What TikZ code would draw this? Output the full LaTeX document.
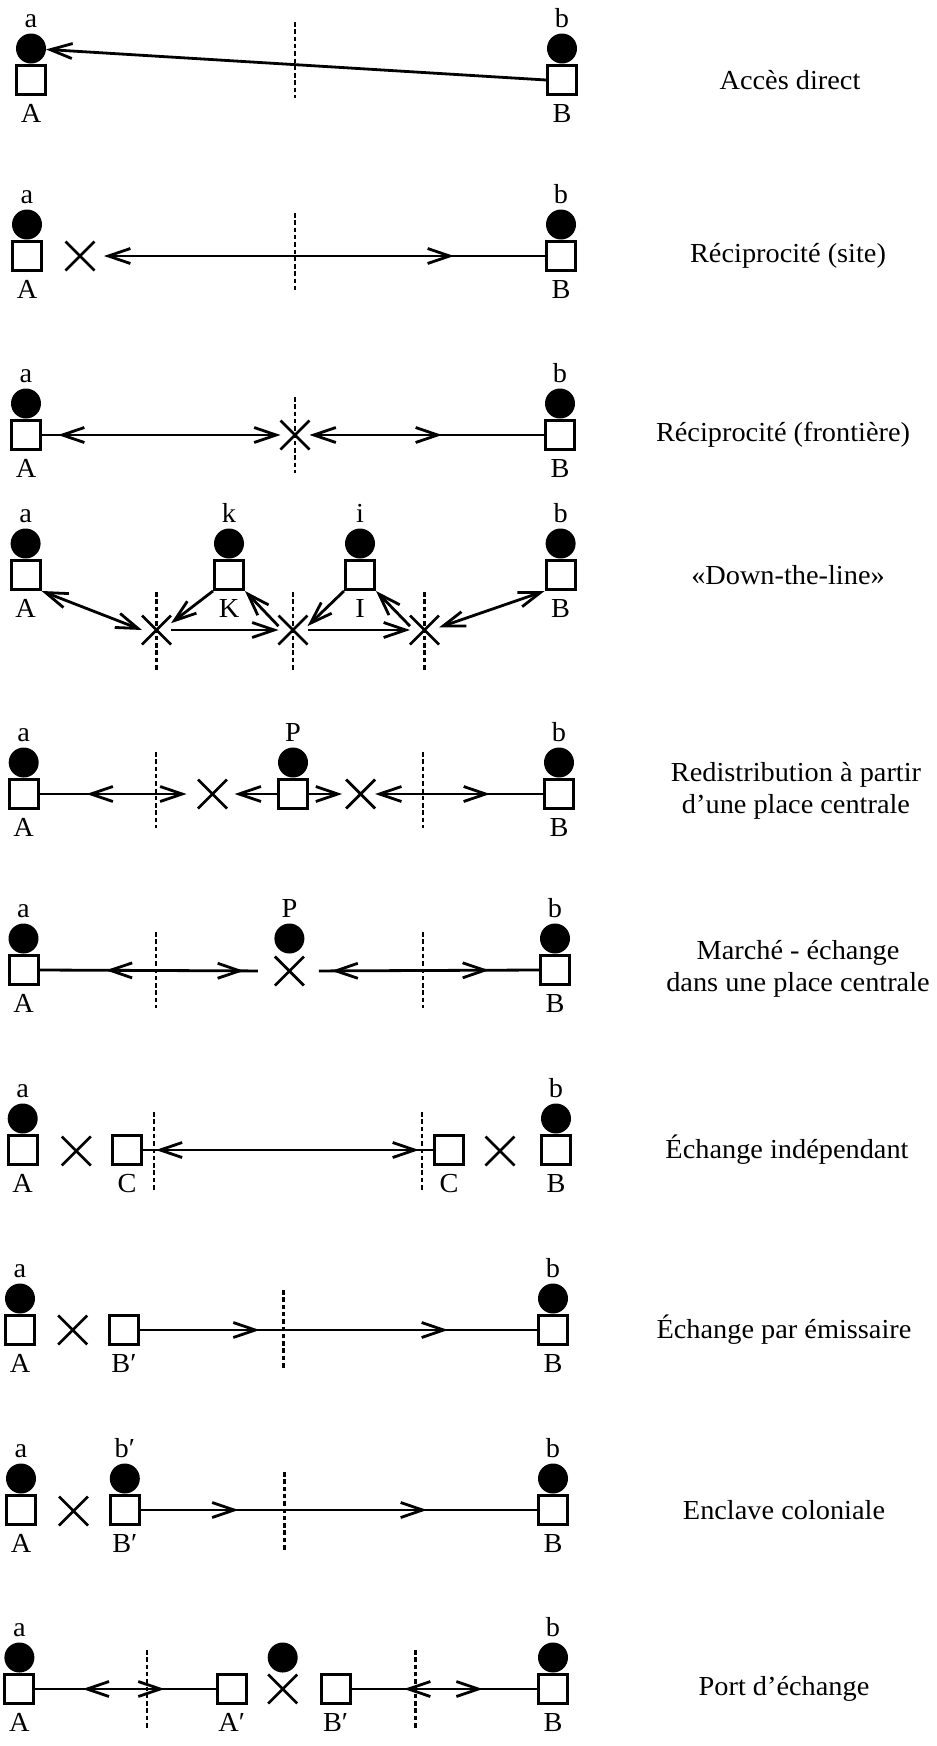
\documentclass[tikz,border=0pt]{standalone}
\usepackage{fontspec}
\setmainfont[FakeStretch=1.03]{Liberation Serif}
\usetikzlibrary{arrows.meta,shapes.misc,decorations.markings}
\tikzset{
  sq/.style={draw, line width=3pt, minimum size=29pt, inner sep=0pt},
  hd/.style={circle, fill=black, minimum size=30pt, inner sep=0pt, outer sep=0pt},
  xm/.style={cross out, draw, line width=2.7pt, minimum size=29pt, inner sep=0pt, outer sep=0pt},
  lab/.style={inner sep=0pt, font=\fontsize{27.5}{31}\selectfont},
  txt/.style={inner sep=0pt, align=center, font=\fontsize{27.5}{31.5}\selectfont},
  con/.style={line width=2.8pt},
  bord/.style={line width=2.4pt, dash pattern=on 4.5pt off 2.8pt},
  fwd/.style={postaction={decorate,decoration={markings,mark=at position #1 with {\arrow{>}}}}},
  bwd/.style={postaction={decorate,decoration={markings,mark=at position #1 with {\arrowreversed{>}}}}},
}
\newcommand\mkhouse[4]{\node[sq] (#1) at (#2,#3) {}; \node[lab,anchor=base] (#1l) at (#2,#3+42.5) {#4};}
\newcommand\mkhead[4]{\node[hd] (#1) at (#2,#3) {}; \node[lab,anchor=base] (#1l) at (#2,#3-21.5) {#4};}
\begin{document}
\begin{tikzpicture}[x=1pt,y=-1pt,>={Straight Barb[length=22pt,width=15pt]}]
\useasboundingbox (0,0) rectangle (937,1746);
% ---------- row 1
\mkhouse{r1A}{31}{80}{A}\mkhead{r1a}{31}{48.5}{a}
\mkhouse{r1B}{562}{80}{B}\mkhead{r1b}{562}{48.5}{b}
\draw[bord] (295,22) -- (295,98);
\draw[con,->] (r1B.west) -- (r1a);
\node[txt] (t1) at (790,80) {Accès direct};
% ---------- row 2
\mkhouse{r2A}{27}{256}{A}\mkhead{r2a}{27}{224.5}{a}
\mkhouse{r2B}{561}{256}{B}\mkhead{r2b}{561}{224.5}{b}
\node[xm] (r2x) at (80,256) {};
\draw[bord] (295,213) -- (295,290);
\draw[con,->,shorten >=9.5pt,bwd=91pt] (r2B.west) -- (r2x.east);
\node[txt] (t2) at (788,256) {Réciprocité (site)};
% ---------- row 3
\mkhouse{r3A}{26}{435}{A}\mkhead{r3a}{26}{403.5}{a}
\mkhouse{r3B}{560}{435}{B}\mkhead{r3b}{560}{403.5}{b}
\node[xm] (r3x) at (295,435) {};
\draw[bord] (295,397) -- (295,473);
\draw[con,->,bwd=16pt] (r3A.east) -- (r3x.west);
\draw[con,->,bwd=102pt] (r3B.west) -- (r3x.east);
\node[txt] (t3) at (783,435) {Réciprocité (frontière)};
% ---------- row 4
\mkhouse{r4A}{25.6}{575}{A}\mkhead{r4a}{25.6}{543.5}{a}
\mkhouse{r4K}{229}{575}{K}\mkhead{r4k}{229}{543.5}{k}
\mkhouse{r4I}{360}{575}{I}\mkhead{r4i}{360}{543.5}{i}
\mkhouse{r4B}{560.6}{575}{B}\mkhead{r4b}{560.6}{543.5}{b}
\node[xm] (r4x1) at (156.5,630) {};
\node[xm] (r4x2) at (293,630) {};
\node[xm] (r4x3) at (424.5,630) {};
\draw[bord] (156.5,592) -- (156.5,670);
\draw[bord] (293,592) -- (293,670);
\draw[bord] (424.5,592) -- (424.5,670);
\draw[con,<->] (r4A.south east) -- (r4x1.west);
\draw[con,->] (r4K.south west) -- (r4x1.25);
\draw[con,->] (r4x1.east) -- (r4x2.west);
\draw[con,->] (r4x2.165) -- (r4K.south east);
\draw[con,->] (r4I.south west) -- (r4x2.15);
\draw[con,->] (r4x2.east) -- (r4x3.west);
\draw[con,->] (r4x3.165) -- (r4I.south east);
\draw[con,<->] (r4B.south west) -- (r4x3.10);
\node[txt] (t4) at (788,575) {«Down-the-line»};
% ---------- row 5
\mkhouse{r5A}{23.7}{794}{A}\mkhead{r5a}{23.7}{762.5}{a}
\mkhouse{r5P}{293}{794}{}\mkhead{r5p}{293}{762.5}{P}
\mkhouse{r5B}{559}{794}{B}\mkhead{r5b}{559}{762.5}{b}
\node[xm] (r5x1) at (212.5,794) {};
\node[xm] (r5x2) at (360.6,794) {};
\draw[bord] (155.8,752) -- (155.8,828);
\draw[bord] (423,752) -- (423,828);
\draw[con,->,shorten >=11.5pt,bwd=46.8pt] (r5A.east) -- (r5x1.west);
\draw[con,->,shorten >=7.6pt] (r5P.west) -- (r5x1.east);
\draw[con,->,shorten >=4pt] (r5P.east) -- (r5x2.west);
\draw[con,->,bwd=53pt] (r5B.west) -- (r5x2.east);
\node[txt] (t5) at (796,791) {Redistribution à partir\\d’une place centrale};
% ---------- row 6
\mkhouse{r6A}{23.5}{970}{A}\mkhead{r6a}{23.5}{938.5}{a}
\mkhouse{r6B}{555}{970}{B}\mkhead{r6b}{555}{938.5}{b}
\node[xm] (r6x) at (289.4,971) {};
\mkhead{r6p}{289.4}{938.5}{P}
\draw[bord] (155.8,932) -- (155.8,1008);
\draw[bord] (423,932) -- (423,1008);
\draw[con,shorten >=17pt,bwd=66.3pt,fwd=204.5pt] (r6A.east) -- (r6x.west);
\draw[con,shorten >=15pt,bwd=50pt,fwd=207.5pt] (r6B.west) -- (r6x.east);
\node[txt] (t6) at (798,969) {Marché - échange\\dans une place centrale};
% ---------- row 7
\mkhouse{r7A}{22.7}{1150}{A}\mkhead{r7a}{22.7}{1118.5}{a}
\mkhouse{r7C1}{127}{1150}{C}
\mkhouse{r7C2}{449}{1150}{C}
\mkhouse{r7B}{556}{1150}{B}\mkhead{r7b}{556}{1118.5}{b}
\node[xm] (r7x1) at (76.3,1151) {};
\node[xm] (r7x2) at (500,1151) {};
\draw[bord] (153.8,1112) -- (153.8,1190);
\draw[bord] (422,1112) -- (422,1190);
\draw[con,bwd=12.8pt,fwd=276pt] (r7C1.east) -- (r7C2.west);
\node[txt] (t7) at (787,1150) {Échange indépendant};
% ---------- row 8
\mkhouse{r8A}{20}{1330}{A}\mkhead{r8a}{20}{1298.5}{a}
\mkhouse{r8Bp}{124}{1330}{B′}
\mkhouse{r8B}{553}{1330}{B}\mkhead{r8b}{553}{1298.5}{b}
\node[xm] (r8x) at (72.7,1330) {};
\draw[bord] (283.5,1290) -- (283.5,1368);
\draw[con,fwd=119.6pt,fwd=308pt] (r8Bp.east) -- (r8B.west);
\node[txt] (t8) at (784,1330) {Échange par émissaire};
% ---------- row 9
\mkhouse{r9A}{21}{1510}{A}\mkhead{r9a}{21}{1478.5}{a}
\mkhouse{r9Bp}{124.8}{1510}{B′}\mkhead{r9bp}{124.8}{1478.5}{b′}
\mkhouse{r9B}{553}{1510}{B}\mkhead{r9b}{553}{1478.5}{b}
\node[xm] (r9x) at (73.5,1511) {};
\draw[bord] (284.6,1472) -- (284.6,1550);
\draw[con,fwd=97.7pt,fwd=286.2pt] (r9Bp.east) -- (r9B.west);
\node[txt] (t9) at (784,1510) {Enclave coloniale};
% ---------- row 10
\mkhouse{r10A}{19.4}{1689}{A}\mkhead{r10a}{19.4}{1657.5}{a}
\mkhouse{r10Ap}{231.7}{1689}{A′}
\mkhouse{r10Bp}{335.6}{1689}{B′}
\mkhouse{r10B}{553}{1689}{B}\mkhead{r10b}{553}{1657.5}{b}
\node[xm] (r10x) at (282.7,1689) {};
\mkhead{r10h}{282.7}{1657.5}{}
\draw[bord] (147,1650) -- (147,1728);
\draw[bord] (415.4,1650) -- (415.4,1728);
\draw[con,bwd=47.3pt,fwd=129.2pt] (r10A.east) -- (r10Ap.west);
\draw[con,bwd=52.4pt,fwd=131.1pt] (r10Bp.east) -- (r10B.west);
\node[txt] (t10) at (784,1689) {Port d’échange};
\end{tikzpicture}
\end{document}
